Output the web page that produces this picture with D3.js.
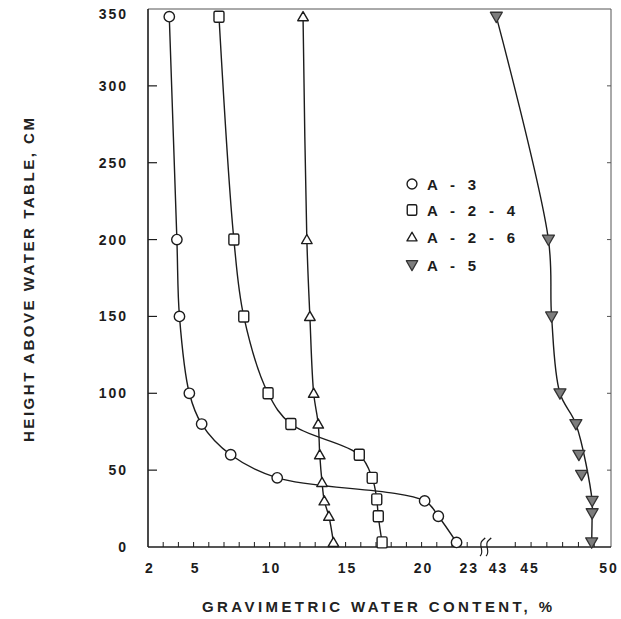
<!DOCTYPE html>
<html><head><meta charset="utf-8">
<script src="https://cdn.jsdelivr.net/npm/d3@7"></script>
<style>body{margin:0;background:#fff}svg{display:block}</style>
</head><body>
<svg id="chart" width="621" height="619"></svg>
<script>
// Soil profiles: gravimetric water content (%) versus height above the water table (cm)
const seriesNames = ["A - 3", "A - 2 - 4", "A - 2 - 6", "A - 5"];

const a3Height = [345, 200, 150, 100, 80, 60, 45, 30, 20, 3];
const a3Water  = [3.4, 3.9, 4.07, 4.72, 5.53, 7.44, 10.5, 20.2, 21.1, 22.3];

const a24Height = [345, 200, 150, 100, 80, 60, 45, 31, 20, 3];
const a24Water  = [6.67, 7.65, 8.3, 9.9, 11.4, 15.9, 16.75, 17.05, 17.15, 17.4];

const a26Height = [345, 200, 150, 100, 80, 60, 42, 30, 20, 3];
const a26Water  = [12.2, 12.45, 12.65, 12.9, 13.2, 13.3, 13.45, 13.6, 13.9, 14.2];

const a5Height = [345, 200, 150, 100, 80, 60, 47, 30, 22, 3];
const a5Water  = [42.8, 46.1, 46.3, 46.83, 47.84, 48.03, 48.2, 48.87, 48.87, 48.84];
// A-5 readings that the smoothed curve does not pass through
const a5OffCurve = [60, 47];

const yTickValues = [0, 50, 100, 150, 200, 250, 300, 350];
const xTickLabels = [2, 5, 10, 15, 20, 23, 43, 45, 50];
const xMinorLeft  = d3.range(3, 24);
const xMinorRight = d3.range(44, 50);

const svg = d3.select("#chart");
const ink = "#1c1c1c";
const font = "'Liberation Sans', Arial, Helvetica, sans-serif";

// Broken x axis: 2–24 on the left, 42–50 on the right
const x = d3.scaleLinear().domain([2, 24, 42, 50]).range([148, 482.4, 483.7, 610]);
const y = d3.scaleLinear().domain([0, 350]).range([547, 9]);

const plotLeft = 148, plotRight = 611, plotTop = 9, plotBottom = 547;

// frame
svg.append("line").attr("x1", plotLeft).attr("x2", plotRight).attr("y1", plotTop).attr("y2", plotTop)
  .attr("stroke", "#555").attr("stroke-width", 1);
svg.append("line").attr("x1", plotRight).attr("x2", plotRight).attr("y1", plotTop).attr("y2", plotBottom)
  .attr("stroke", "#555").attr("stroke-width", 1);
svg.append("line").attr("x1", plotLeft).attr("x2", plotLeft).attr("y1", plotTop).attr("y2", plotBottom)
  .attr("stroke", ink).attr("stroke-width", 1.6);
svg.append("line").attr("x1", plotLeft).attr("x2", plotRight).attr("y1", plotBottom).attr("y2", plotBottom)
  .attr("stroke", ink).attr("stroke-width", 1.4);

// y ticks (inward) and labels
svg.selectAll(".ytl").data(yTickValues.filter(v => v > 0 && v < 350)).join("line")
  .attr("x1", plotLeft).attr("x2", plotLeft + 9).attr("y1", d => y(d)).attr("y2", d => y(d))
  .attr("stroke", ink).attr("stroke-width", 1.2);
svg.selectAll(".ytr").data(yTickValues.filter(v => v > 0 && v < 350)).join("line")
  .attr("x1", plotRight).attr("x2", plotRight - 4).attr("y1", d => y(d)).attr("y2", d => y(d))
  .attr("stroke", "#555").attr("stroke-width", 1);
svg.selectAll(".ylab").data(yTickValues).join("text")
  .attr("x", 128).attr("y", d => Math.max(y(d), 14) + 5)
  .attr("text-anchor", "end")
  .attr("font-family", font).attr("font-weight", "bold").attr("font-size", 14)
  .attr("letter-spacing", 2).attr("fill", ink)
  .text(d => d);

// x ticks (inward)
svg.selectAll(".xt").data(xMinorLeft.concat(xMinorRight)).join("line")
  .attr("x1", d => x(d)).attr("x2", d => x(d)).attr("y1", plotBottom).attr("y2", plotBottom - 5)
  .attr("stroke", ink).attr("stroke-width", 1);
svg.selectAll(".xlab").data(xTickLabels).join("text")
  .attr("x", d => x(d) + (d > 40 ? -1 : 2)).attr("y", 573)
  .attr("text-anchor", "middle")
  .attr("font-family", font).attr("font-weight", "bold").attr("font-size", 14)
  .attr("letter-spacing", 2).attr("fill", ink)
  .text(d => d);

// axis break mark
[482, 488].forEach(cx => {
  svg.append("path")
    .attr("d", `M${cx - 2},556 C${cx + 3},552 ${cx - 4},545 ${cx},541 S${cx + 3},539 ${cx + 2},538`)
    .attr("fill", "none").attr("stroke", ink).attr("stroke-width", 1.2);
});

// axis titles
svg.append("text").attr("x", 377).attr("y", 612).attr("text-anchor", "middle")
  .attr("font-family", font).attr("font-weight", "bold").attr("font-size", 15)
  .attr("fill", "#222").attr("textLength", 350).attr("lengthAdjust", "spacing")
  .text("GRAVIMETRIC WATER CONTENT, %");
svg.append("text").attr("transform", "translate(34,280) rotate(-90)").attr("text-anchor", "middle")
  .attr("font-family", font).attr("font-weight", "bold").attr("font-size", 15)
  .attr("fill", "#222").attr("textLength", 324).attr("lengthAdjust", "spacing")
  .text("HEIGHT ABOVE WATER TABLE, CM");

// series
const series = [
  { name: seriesNames[0], h: a3Height, w: a3Water, shape: "circle" },
  { name: seriesNames[1], h: a24Height, w: a24Water, shape: "square" },
  { name: seriesNames[2], h: a26Height, w: a26Water, shape: "triangle" },
  { name: seriesNames[3], h: a5Height, w: a5Water, shape: "down", skip: a5OffCurve }
].map(s => ({ ...s, pts: s.h.map((h, i) => ({ h, w: s.w[i] })) }));

const line = d3.line().x(d => x(d.w)).y(d => y(d.h)).curve(d3.curveCatmullRom.alpha(0.5));

series.forEach(s => {
  const curvePts = s.pts.filter(p => !(s.skip || []).includes(p.h));
  svg.append("path").attr("d", line(curvePts))
    .attr("fill", "none").attr("stroke", ink).attr("stroke-width", 1.4);
});

function drawMarker(g, shape, cx, cy, scale) {
  const k = scale || 1;
  if (shape === "circle") {
    g.append("circle").attr("cx", cx).attr("cy", cy).attr("r", 5.2 * k)
      .attr("fill", "#fff").attr("stroke", ink).attr("stroke-width", 1.4);
  } else if (shape === "square") {
    g.append("rect").attr("x", cx - 5 * k).attr("y", cy - 5.5 * k).attr("width", 10 * k).attr("height", 11 * k)
      .attr("rx", 1.5).attr("fill", "#fff").attr("stroke", ink).attr("stroke-width", 1.4);
  } else if (shape === "triangle") {
    g.append("path").attr("d", d3.symbol(d3.symbolTriangle, 48 * k * k)())
      .attr("transform", `translate(${cx},${cy + 1})`)
      .attr("fill", "#fff").attr("stroke", ink).attr("stroke-width", 1.4).attr("stroke-linejoin", "round");
  } else {
    g.append("path").attr("d", d3.symbol(d3.symbolTriangle, 62 * k * k)())
      .attr("transform", `translate(${cx},${cy - 1}) rotate(180)`)
      .attr("fill", "#7d7d7d").attr("stroke", "#333").attr("stroke-width", 1.3).attr("stroke-linejoin", "round");
  }
}

series.forEach(s => {
  const g = svg.append("g");
  s.pts.forEach(p => drawMarker(g, s.shape, x(p.w), y(p.h)));
});

// legend
const legendRows = [184, 210, 237, 265];
series.forEach((s, i) => {
  const g = svg.append("g");
  drawMarker(g, s.shape, 412, legendRows[i], 0.95);
  g.append("text").attr("x", 427).attr("y", legendRows[i] + 5.5)
    .attr("font-family", font).attr("font-weight", "bold").attr("font-size", 15)
    .attr("letter-spacing", 4.3).attr("fill", ink)
    .style("white-space", "pre")
    .text(s.name);
});
</script>
</body></html>
